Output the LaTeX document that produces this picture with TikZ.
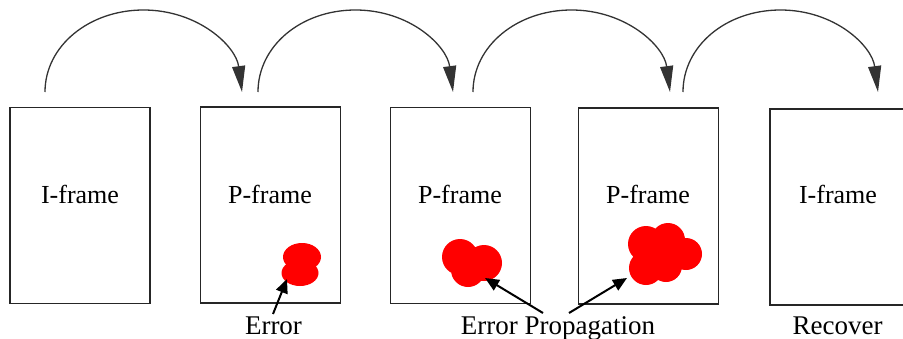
\documentclass[tikz,border=0pt]{standalone}
\usepackage{fontspec}
\setmainfont{Liberation Serif}
\usetikzlibrary{arrows.meta}
\begin{document}
\begin{tikzpicture}[x=1pt,y=-1pt,
  frame/.style={draw=black!85,line width=1.8pt,minimum width=140pt,minimum height=196pt,inner sep=0pt},
  ftext/.style={font=\fontsize{26}{30}\selectfont,anchor=base,inner sep=0pt},
  lbl/.style={font=\fontsize{27}{32}\selectfont,anchor=base,inner sep=0pt},
  flow/.style={draw=black!80,line width=1.3pt,-{Triangle[length=26pt,width=13pt]}},
  ptr/.style={draw=black,line width=2pt,-{Triangle[length=14pt,width=12pt]}},
  blob/.style={fill=red}]
\useasboundingbox (0,0) rectangle (903,338);
% frames
\node[frame] (f1) at (80,205.5) {};
\node[frame] (f2) at (270.5,205) {};
\node[frame] (f3) at (460.5,205.5) {};
\node[frame] (f4) at (648.5,206) {};
\node[frame] (f5) at (840,207) {};
% frame texts
\node[ftext] (t1) at (80,203) {I-frame};
\node[ftext] (t2) at (270,203) {P-frame};
\node[ftext] (t3) at (460,203) {P-frame};
\node[ftext] (t4) at (648,203) {P-frame};
\node[ftext] (t5) at (838,203) {I-frame};
% arcs
\coordinate (a1s) at (45,92);  \coordinate (a1e) at (242,92);
\coordinate (a2s) at (258,92); \coordinate (a2e) at (453,92);
\coordinate (a3s) at (473,92); \coordinate (a3e) at (670,92);
\coordinate (a4s) at (683,92); \coordinate (a4e) at (878,92);
\draw[flow] (a1s) .. controls (45,46) and (89,10) .. (143.5,10) .. controls (198,10) and (236,46) .. (a1e);
\draw[flow] (a2s) .. controls (258,46) and (301,10) .. (355.5,10) .. controls (410,10) and (447,46) .. (a2e);
\draw[flow] (a3s) .. controls (473,46) and (517,10) .. (571.5,10) .. controls (626,10) and (664,46) .. (a3e);
\draw[flow] (a4s) .. controls (683,46) and (726,10) .. (780.5,10) .. controls (835,10) and (872,46) .. (a4e);
% blobs
\fill[blob] (302,257) ellipse [x radius=19pt, y radius=14pt]
            (300,273) ellipse [x radius=18.5pt, y radius=13pt];
\fill[blob] (460,257) circle (18pt)
            (484,263) circle (18pt)
            (468,270) circle (17pt);
\fill[blob] (646,244) circle (18pt)
            (668,240) circle (17pt)
            (686,254) circle (16pt)
            (646,268) circle (17pt)
            (666,266) circle (16pt);
% labels
\node[lbl] (l1) at (273.5,334.5) {Error};
\node[lbl] (l2) at (558,334.5) {Error Propagation};
\node[lbl] (l3) at (837.5,334.5) {Recover};
% pointers
\coordinate (p1s) at (273,314); \coordinate (p1e) at (287,279);
\coordinate (p2s) at (543,313); \coordinate (p2e) at (485,278);
\coordinate (p3s) at (569,313); \coordinate (p3e) at (627,278);
\draw[ptr] (p1s) -- (p1e);
\draw[ptr] (p2s) -- (p2e);
\draw[ptr] (p3s) -- (p3e);
\end{tikzpicture}
\end{document}
